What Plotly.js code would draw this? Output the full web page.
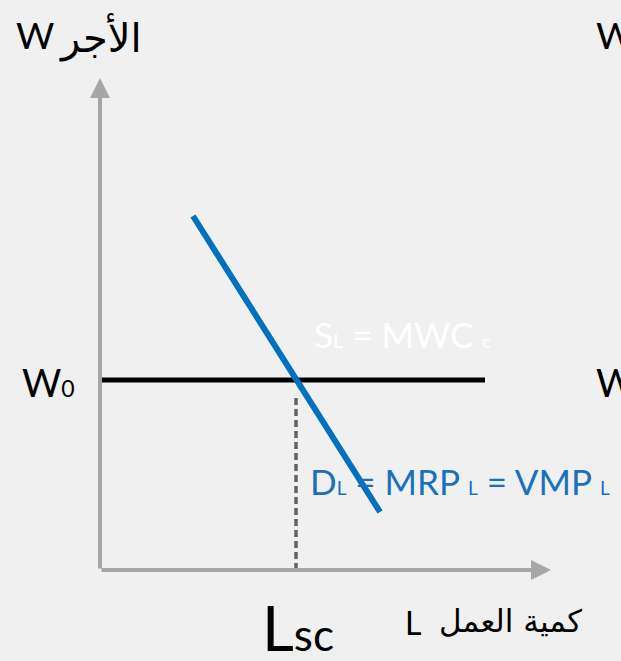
<!DOCTYPE html>
<html><head><meta charset="utf-8">
<script src="https://cdn.plot.ly/plotly-3.0.1.min.js"></script>
<style>html,body{margin:0;padding:0;background:#f0f0f0;}</style>
</head><body>
<div id="chart" style="width:621px;height:661px;"></div>
<script>
// Labour quantity (L) and wage (W) in chart units, origin at axes corner
const demandL = [93, 280];
const demandW = [354, 58];
const wageL = [2, 385];
const wageW = [190, 190];
const Lsc = 196;
const W0 = 190;
const dashL = [Lsc, Lsc];
const dashW = [0, 176];
const yAxisEnd = 492;
const xAxisEnd = 451;

const latin = "Lato, Open Sans, sans-serif";
const arabic = "DejaVu Sans, sans-serif";

const traces = [
  {x: wageL, y: wageW, mode: 'lines', line: {color: '#000000', width: 5}, hoverinfo: 'skip'},
  {x: dashL, y: dashW, mode: 'lines', line: {color: '#5b636b', width: 3.5, dash: '7px,4px'}, hoverinfo: 'skip'},
  {x: demandL, y: demandW, mode: 'lines', line: {color: '#0070c0', width: 6}, hoverinfo: 'skip'}
];

const axisColor = '#a6a6a6';
function txt(x, y, text, font, extra) {
  return Object.assign({x: x, y: y, xref: 'x', yref: 'y', text: text, showarrow: false, font: font}, extra || {});
}
const layout = {
  width: 621, height: 661, autosize: false,
  margin: {l: 0, r: 0, t: 0, b: 0},
  paper_bgcolor: '#f0f0f0', plot_bgcolor: 'rgba(0,0,0,0)',
  showlegend: false,
  xaxis: {range: [-100, 521], visible: false, fixedrange: true},
  yaxis: {range: [-91, 570], visible: false, fixedrange: true},
  annotations: [
    {x: 0, y: yAxisEnd, ax: 0, ay: 0, xref: 'x', yref: 'y', axref: 'x', ayref: 'y', text: '', showarrow: true, arrowhead: 2, arrowsize: 1, arrowwidth: 4, arrowcolor: axisColor, standoff: 0, startstandoff: 0},
    {x: xAxisEnd, y: 0, ax: 0, ay: 0, xref: 'x', yref: 'y', axref: 'x', ayref: 'y', text: '', showarrow: true, arrowhead: 2, arrowsize: 1, arrowwidth: 4, arrowcolor: axisColor, standoff: 0, startstandoff: 0},
    txt(-43, 533, 'الأجر', {family: arabic, size: 40, color: '#000'}, {xanchor: 'left'}),
    txt(-86, 536, 'W', {family: latin, size: 37, color: '#000'}, {xanchor: 'left'}),
    txt(494, 536, 'W', {family: latin, size: 37, color: '#000'}, {xanchor: 'left'}),
    txt(-80, W0 - 2, 'W<span style="font-size:23px">0</span>', {family: latin, size: 38, color: '#000'}, {xanchor: 'left'}),
    txt(494, W0 - 2, 'W', {family: latin, size: 38, color: '#000'}, {xanchor: 'left'}),
    txt(212, 236, 'S<span style="font-size:20px">L</span> = MWC <span style="font-size:18px">c</span>', {family: latin, size: 35, color: '#ffffff'}, {xanchor: 'left'}),
    txt(208, 89, 'D<span style="font-size:19px">L</span> = MRP <span style="font-size:19px">L</span> = VMP <span style="font-size:19px">L</span>', {family: latin, size: 35, color: '#1a6fc0'}, {xanchor: 'left'}),
    txt(160, -57, 'L<span style="font-size:44px">sc</span>', {family: latin, size: 62, color: '#000'}, {xanchor: 'left'}),
    txt(337, -51, 'كمية العمل', {family: arabic, size: 31, color: '#000'}, {xanchor: 'left'}),
    txt(303, -52, 'L', {family: latin, size: 32, color: '#000'}, {xanchor: 'left'}),
    txt(-103, -36, 'ك', {family: arabic, size: 34, color: '#000'})
  ]
};

Plotly.newPlot('chart', traces, layout, {staticPlot: true, displayModeBar: false});
</script>
</body></html>
